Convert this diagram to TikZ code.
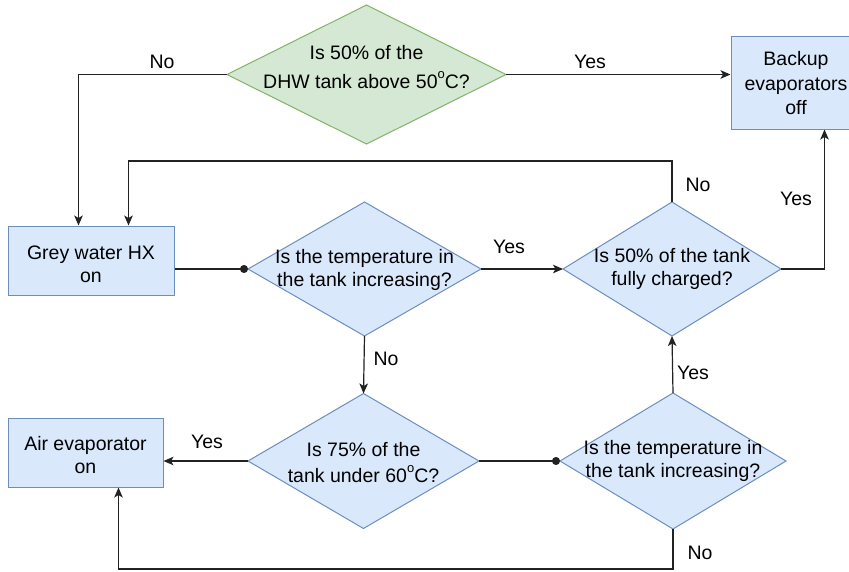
\documentclass[tikz,border=0pt]{standalone}
\usepackage{fontspec}
\setmainfont{Liberation Sans}
\usetikzlibrary{shapes.geometric,arrows.meta,calc}

\definecolor{bluefill}{HTML}{DAE8FC}
\definecolor{bluedraw}{HTML}{6C8EBF}
\definecolor{greenfill}{HTML}{D5E8D4}
\definecolor{greendraw}{HTML}{82B366}
\definecolor{wire}{HTML}{222222}

\tikzset{
  txt/.style={font=\fontsize{19.5}{23}\selectfont, align=center, inner sep=0pt, text=black},
  procbox/.style={draw=bluedraw, fill=bluefill, line width=1pt, rectangle, inner sep=0pt},
  decision/.style={diamond, draw=bluedraw, fill=bluefill, line width=1pt, inner sep=0pt, outer sep=0pt},
  startdecision/.style={decision, draw=greendraw, fill=greenfill},
  wirestyle/.style={draw=wire, line width=1.2pt},
  arr/.style={wirestyle, -{Stealth[length=10pt, width=8.5pt, inset=2.5pt]}},
  dotend/.style={wirestyle, -{Circle[length=8pt, width=8pt]}},
  edgelbl/.style={txt},
}
% superscript degree mark, drawn a little larger than the default
\newcommand{\degsup}{\raisebox{0.55em}{\fontsize{13}{13}\selectfont o}}

\begin{document}
\begin{tikzpicture}[x=1pt, y=-1pt]
  \useasboundingbox (0,0) rectangle (849,571);

  % decisions
  \node[startdecision, minimum width=279pt, minimum height=139pt] (q1) at (366.5,74.5) {};
  \node[txt, yshift=7pt] (q1t) at (q1) {Is 50\% of the\\[6pt]DHW tank above 50\degsup C?};

  \node[decision, minimum width=233pt, minimum height=134pt] (q2) at (364.5,269) {};
  \node[txt, yshift=-1pt] (q2t) at (q2) {Is the temperature in\\the tank increasing?};

  \node[decision, minimum width=218pt, minimum height=134pt] (q3) at (672,269) {};
  \node[txt] (q3t) at (q3) {Is 50\% of the tank\\fully charged?};

  \node[decision, minimum width=231pt, minimum height=135pt] (q4) at (363.5,461) {};
  \node[txt, yshift=-2pt] (q4t) at (q4) {Is 75\% of the\\[3pt]tank under 60\degsup C?};

  \node[decision, minimum width=226pt, minimum height=136pt] (q5) at (673,461) {};
  \node[txt] (q5t) at (q5) {Is the temperature in\\the tank increasing?};

  % actions
  \node[procbox, minimum width=130pt, minimum height=93pt] (backup) at (796,82.5) {};
  \node[txt, font=\fontsize{19.5}{24.5}\selectfont, yshift=-1pt] (backupt) at (backup) {Backup\\evaporators\\off};

  \node[procbox, minimum width=166pt, minimum height=69pt] (grey) at (91,260.5) {};
  \node[txt, yshift=-4pt] (greyt) at (grey) {Grey water HX\\on};

  \node[procbox, minimum width=155pt, minimum height=69pt] (air) at (85.5,452.5) {};
  \node[txt, yshift=-3pt] (airt) at (air) {Air evaporator\\on};

  % connectors
  \draw[arr] (q1.west) -| ([xshift=71pt]grey.north west);
  \draw[arr] (q1.east) -- (q1.east -| backup.west);
  \draw[dotend] (q2.west -| grey.east) -- (q2.west);
  \draw[arr] (q2.east) -- (q3.west);
  \draw[arr] (q3.north) -- ++(0,-41) -| ([xshift=121pt]grey.north west);
  \draw[arr] (q3.east) -| ([xshift=94pt]backup.south west);
  \draw[arr] (q2.south) -- (q4.north);
  \draw[arr] (q4.west) -- (q4.west -| air.east);
  \draw[dotend] (q4.east) -- (q5.west);
  \draw[arr] (q5.north) -- (q3.south);
  \draw[arr] (q5.south) -- ++(0,40) -| ([xshift=111pt]air.south west);

  % branch labels
  \node[edgelbl] (lno1) at (162,62) {No};
  \node[edgelbl] (lyes1) at (590,62) {Yes};
  \node[edgelbl] (lno2) at (698,185) {No};
  \node[edgelbl] (lyes2) at (796,199) {Yes};
  \node[edgelbl] (lyes3) at (509,247) {Yes};
  \node[edgelbl] (lno3) at (386,359) {No};
  \node[edgelbl] (lyes4) at (693,373) {Yes};
  \node[edgelbl] (lyes5) at (207,442) {Yes};
  \node[edgelbl] (lno4) at (700,553) {No};
\end{tikzpicture}
\end{document}
